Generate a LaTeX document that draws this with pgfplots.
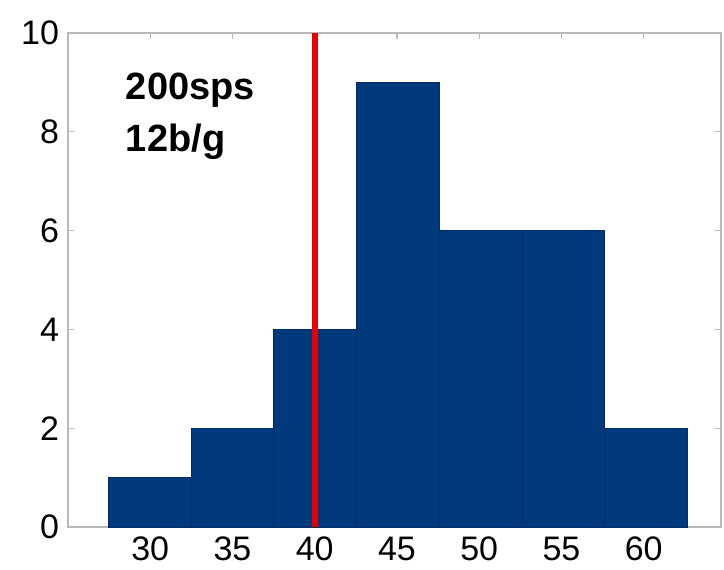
\documentclass[border=0pt]{standalone}
\usepackage{pgfplots}
\pgfplotsset{compat=1.18}
\usepackage{fontspec}
\setmainfont{Liberation Sans}
\usetikzlibrary{calc}
\definecolor{barblue}{RGB}{0,58,125}
\definecolor{baredge}{RGB}{0,45,100}
\definecolor{vline}{RGB}{232,0,0}
\begin{document}
\begin{tikzpicture}
\begin{axis}[
  name=ax,
  scale only axis,
  width=326.5pt, height=247pt,
  xmin=25, xmax=64.7, ymin=0, ymax=10,
  xtick={30,35,...,60}, ytick={0,2,...,10},
  tick align=inside, tickpos=both,
  major tick length=3pt,
  axis line style={gray!55, line width=0.6pt},
  tick style={gray!55, line width=0.6pt},
  tick label style={font=\fontsize{17}{20}\selectfont, black},
  /pgf/number format/assume math mode=true,
  xticklabel style={yshift=-1.5pt},
  yticklabel style={xshift=-1pt},
]
\addplot[ybar interval, fill=barblue, draw=baredge, line width=0.4pt]
  coordinates {(27.45,1)(32.48,2)(37.51,4)(42.54,9)(47.57,6)(52.60,6)(57.63,2)(62.66,2)};
\addplot[vline, line width=3pt] coordinates {(40,0)(40,10)};
\node[anchor=north west, align=left, font=\fontsize{19}{26}\selectfont\bfseries, inner sep=0pt]
  at (axis cs:28.5,9.2) {200sps\\12b/g};
\end{axis}
\pgfresetboundingbox
\useasboundingbox ($(ax.south west)+(-34pt,-21pt)$) rectangle ($(ax.north east)+(1.5pt,16.5pt)$);
\end{tikzpicture}
\end{document}
